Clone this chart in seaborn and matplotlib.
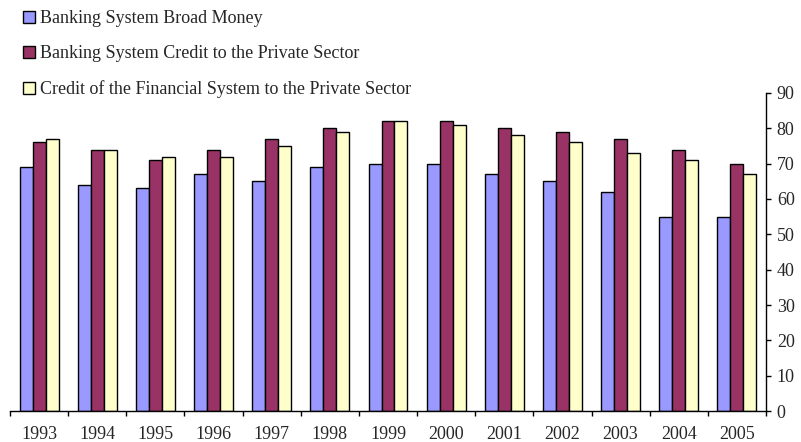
import matplotlib
matplotlib.use("Agg")
import matplotlib.pyplot as plt
import numpy as np
import pandas as pd
import seaborn as sns

years = ["1993", "1994", "1995", "1996", "1997", "1998", "1999",
         "2000", "2001", "2002", "2003", "2004", "2005"]
broad_money = [69, 64, 63, 67, 65, 69, 70, 70, 67, 65, 62, 55, 55]
bank_credit = [76, 74, 71, 74, 77, 80, 82, 82, 80, 79, 77, 74, 70]
fin_credit = [77, 74, 72, 72, 75, 79, 82, 81, 78, 76, 73, 71, 67]

series_names = [
    "Banking System Broad Money",
    "Banking System Credit to the Private Sector",
    "Credit of the Financial System to the Private Sector",
]
colors = ["#9999FF", "#993366", "#FFFFCC"]

df = pd.DataFrame({
    "year": years * 3,
    "value": broad_money + bank_credit + fin_credit,
    "series": [series_names[0]] * 13 + [series_names[1]] * 13 + [series_names[2]] * 13,
})

sns.set_theme(style="white")
plt.rcParams["font.family"] = ["Liberation Serif", "DejaVu Serif"]

fig = plt.figure(figsize=(8.01, 4.42), dpi=100)
ax = fig.add_axes([10 / 801, 31 / 442, 756 / 801, 318 / 442])

sns.barplot(data=df, x="year", y="value", hue="series", palette=colors,
            width=0.67, edgecolor="black", linewidth=1.0, saturation=1,
            ax=ax, legend=True)

ax.set_xlim(-0.5, 12.5)
ax.set_ylim(0, 90)
ax.set_xlabel("")
ax.set_ylabel("")

# y axis on the right
ax.yaxis.tick_right()
ax.set_yticks(np.arange(0, 91, 10))
ax.tick_params(axis="y", which="major", direction="out", length=3.8, width=1,
               color="black", labelsize=13, pad=4, right=True, left=False)

# x: labels at group centres, tick marks between groups
ax.set_xticks(range(13))
ax.set_xticklabels(years)
ax.set_xticks(np.arange(-0.5, 13, 1), minor=True)
ax.tick_params(axis="x", which="major", length=0, labelsize=13, pad=11)
ax.tick_params(axis="x", which="minor", direction="out", length=3.5, width=1,
               color="black", bottom=True)

for side in ["top", "left"]:
    ax.spines[side].set_visible(False)
for side in ["bottom", "right"]:
    ax.spines[side].set_color("black")
    ax.spines[side].set_linewidth(1)
ax.grid(False)

handles, labels = ax.get_legend_handles_labels()
ax.legend_.remove()
fig.legend(handles, labels, loc="upper left", bbox_to_anchor=(16 / 801, 1 - 3 / 442),
           frameon=False, fontsize=13, handlelength=0.65, handleheight=0.65,
           handletextpad=0.3, labelspacing=1.0, borderaxespad=0)

fig.savefig("out.png", dpi=100)
